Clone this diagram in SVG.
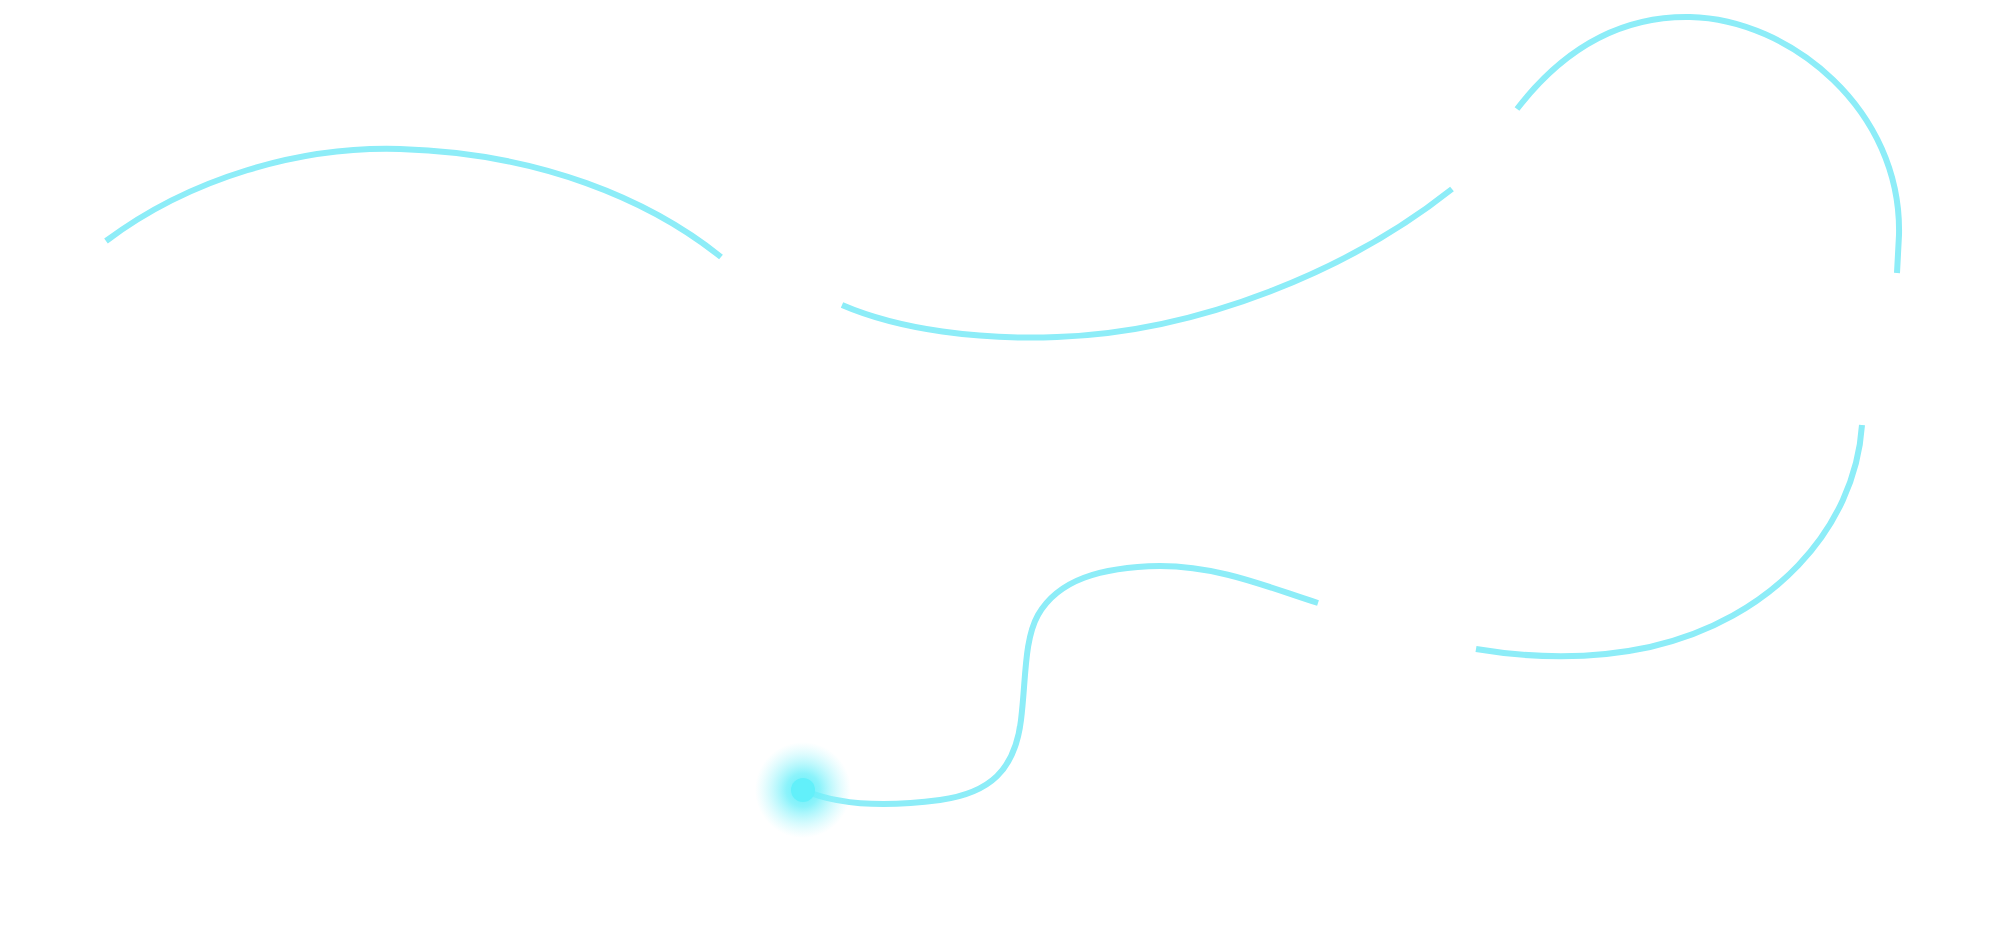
<svg xmlns="http://www.w3.org/2000/svg" width="2000" height="946" viewBox="0 0 2000 946">
<defs>
<style>
.ln{fill:none;stroke:#8DEDF8;stroke-width:6;}
</style>
<radialGradient id="glow" cx="0.5" cy="0.5" r="0.5">
<stop offset="0" stop-color="#5EEFFA" stop-opacity="1"/>
<stop offset="0.35" stop-color="#6FF0FA" stop-opacity="0.8"/>
<stop offset="1" stop-color="#AAF6FC" stop-opacity="0"/>
</radialGradient>
</defs>
<rect width="2000" height="946" fill="#FFFFFF"/>
<g id="connectors">
<path class="ln" d="M106,241 C190,178 300,146 400,149 C540,153 650,200 721,257"/>
<path class="ln" d="M842,305 C900,330 980,340 1057,337 C1200,332 1350,270 1452,189"/>
<path class="ln" d="M1517,109 C1570,40 1630,16 1690,17 C1790,19 1902,110 1899,235 L1897,273"/>
<path class="ln" d="M1862,425 C1855,530 1770,620 1650,647 C1590,660 1530,658 1476,649"/>
<path class="ln" d="M803,790 C835,804 880,808 940,800 C990,793 1015,770 1021,720 C1026,680 1024,640 1038,615 C1058,580 1100,567 1160,566 C1220,566 1270,588 1318,603"/>
</g>
<g id="dot">
<circle cx="803" cy="790" r="48" fill="url(#glow)"/>
<circle cx="803" cy="790" r="12" fill="#62F0FA"/>
</g>
</svg>
